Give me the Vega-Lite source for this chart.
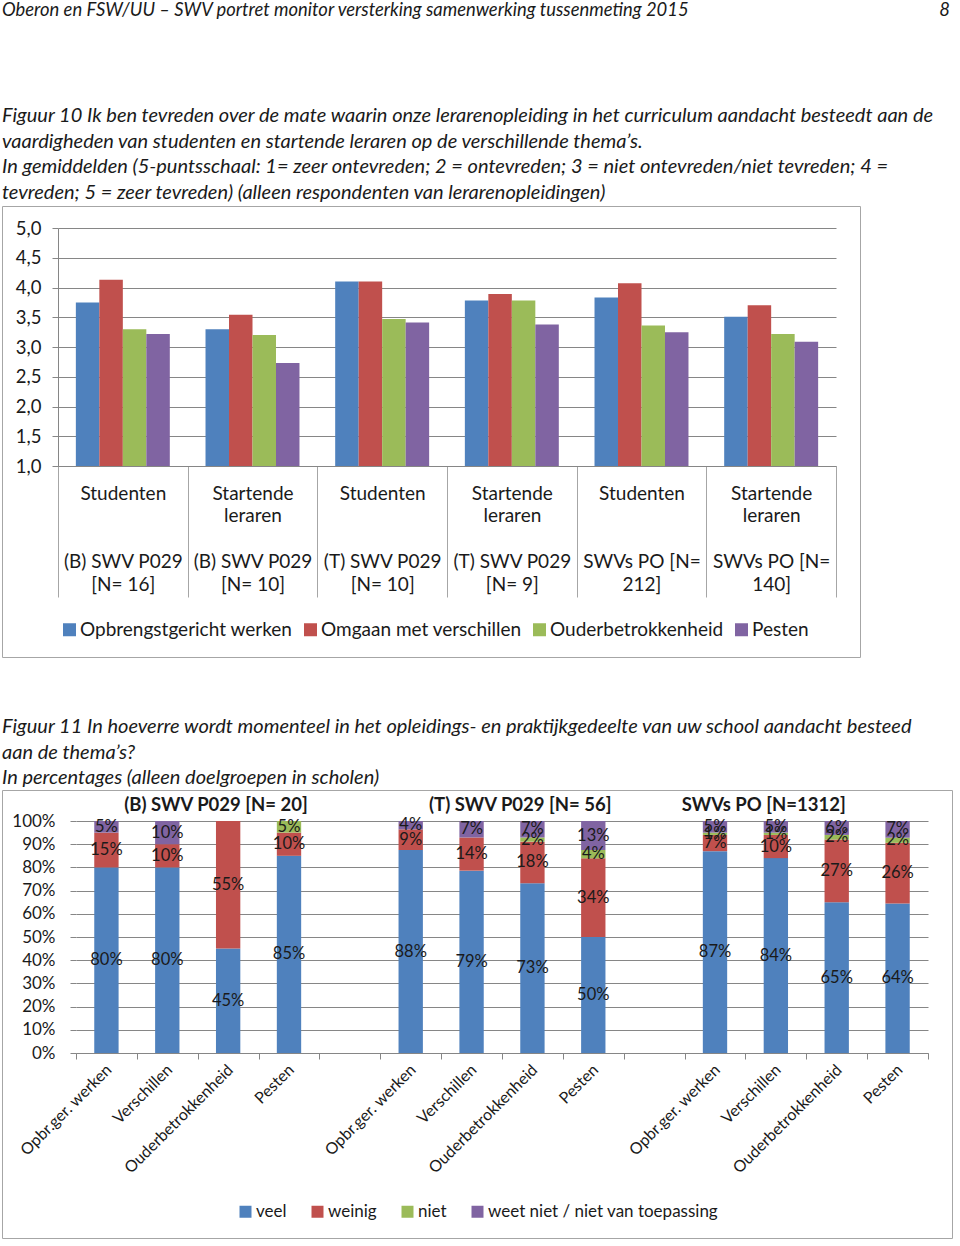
{
  "$schema": "https://vega.github.io/schema/vega-lite/v6.json",
  "padding": {"left": -5, "top": 0, "right": 0, "bottom": 0},
  "background": "white",
  "spacing": 58,
  "resolve": {
    "scale": {"x": "independent", "y": "independent", "color": "independent"},
    "legend": {"color": "independent"}
  },
  "config": {
    "font": "Lato",
    "view": {"stroke": "#a6a6a6"},
    "title": {"font": "Lato", "color": "#1a1a1a", "fontWeight": "normal", "fontStyle": "italic", "anchor": "start", "fontSize": 20, "frame": "group"},
    "axis": {"labelFont": "Lato", "labelColor": "#1a1a1a", "domainColor": "#868686", "tickColor": "#868686", "gridColor": "#868686"},
    "legend": {"labelFont": "Lato", "labelColor": "#1a1a1a"}
  },
  "vconcat": [
    {
      "width": 948,
      "height": 47,
      "view": {"stroke": null},
      "data": {"values": [
        {"plek": "links", "tekst": "Oberon en FSW/UU – SWV portret monitor versterking samenwerking tussenmeting 2015"},
        {"plek": "rechts", "tekst": "8"}
      ]},
      "encoding": {
        "x": {"field": "plek", "type": "nominal", "axis": null, "scale": {"type": "point", "domain": ["links", "rechts"], "padding": 0}},
        "text": {"field": "tekst"}
      },
      "layer": [
        {
          "transform": [{"filter": "datum.plek == 'links'"}],
          "mark": {"type": "text", "align": "left", "baseline": "middle", "dy": -13.5, "fontSize": 18.4, "fontStyle": "italic", "color": "#1a1a1a"}
        },
        {
          "transform": [{"filter": "datum.plek == 'rechts'"}],
          "mark": {"type": "text", "align": "right", "baseline": "middle", "dy": -13.5, "fontSize": 18.4, "fontStyle": "italic", "color": "#1a1a1a"}
        }
      ]
    },
    {
      "width": 858,
      "height": 451,
      "title": {
        "text": [
          "Figuur 10 Ik ben tevreden over de mate waarin onze lerarenopleiding in het curriculum aandacht besteedt aan de",
          "vaardigheden van studenten en startende leraren op de verschillende thema’s.",
          "In gemiddelden (5-puntsschaal: 1= zeer ontevreden; 2 = ontevreden; 3 = niet ontevreden/niet tevreden; 4 =",
          "tevreden; 5 = zeer tevreden) (alleen respondenten van lerarenopleidingen)"
        ],
        "lineHeight": 25.7,
        "offset": 3
      },
      "data": {"values": [
        {"groep": "Studenten|\u200b|\u200b|(B) SWV P029|[N=  16]", "thema": "Opbrengstgericht werken", "gemiddelde": 3.75},
        {"groep": "Studenten|\u200b|\u200b|(B) SWV P029|[N=  16]", "thema": "Omgaan met verschillen", "gemiddelde": 4.13},
        {"groep": "Studenten|\u200b|\u200b|(B) SWV P029|[N=  16]", "thema": "Ouderbetrokkenheid", "gemiddelde": 3.30},
        {"groep": "Studenten|\u200b|\u200b|(B) SWV P029|[N=  16]", "thema": "Pesten", "gemiddelde": 3.22},
        {"groep": "Startende|leraren|\u200b|(B) SWV P029|[N=  10]", "thema": "Opbrengstgericht werken", "gemiddelde": 3.30},
        {"groep": "Startende|leraren|\u200b|(B) SWV P029|[N=  10]", "thema": "Omgaan met verschillen", "gemiddelde": 3.54},
        {"groep": "Startende|leraren|\u200b|(B) SWV P029|[N=  10]", "thema": "Ouderbetrokkenheid", "gemiddelde": 3.20},
        {"groep": "Startende|leraren|\u200b|(B) SWV P029|[N=  10]", "thema": "Pesten", "gemiddelde": 2.73},
        {"groep": "Studenten|\u200b|\u200b|(T) SWV P029|[N=  10]", "thema": "Opbrengstgericht werken", "gemiddelde": 4.10},
        {"groep": "Studenten|\u200b|\u200b|(T) SWV P029|[N=  10]", "thema": "Omgaan met verschillen", "gemiddelde": 4.10},
        {"groep": "Studenten|\u200b|\u200b|(T) SWV P029|[N=  10]", "thema": "Ouderbetrokkenheid", "gemiddelde": 3.47},
        {"groep": "Studenten|\u200b|\u200b|(T) SWV P029|[N=  10]", "thema": "Pesten", "gemiddelde": 3.41},
        {"groep": "Startende|leraren|\u200b|(T) SWV P029|[N=   9]", "thema": "Opbrengstgericht werken", "gemiddelde": 3.78},
        {"groep": "Startende|leraren|\u200b|(T) SWV P029|[N=   9]", "thema": "Omgaan met verschillen", "gemiddelde": 3.89},
        {"groep": "Startende|leraren|\u200b|(T) SWV P029|[N=   9]", "thema": "Ouderbetrokkenheid", "gemiddelde": 3.78},
        {"groep": "Startende|leraren|\u200b|(T) SWV P029|[N=   9]", "thema": "Pesten", "gemiddelde": 3.38},
        {"groep": "Studenten|\u200b|\u200b|SWVs PO [N=|212]", "thema": "Opbrengstgericht werken", "gemiddelde": 3.83},
        {"groep": "Studenten|\u200b|\u200b|SWVs PO [N=|212]", "thema": "Omgaan met verschillen", "gemiddelde": 4.07},
        {"groep": "Studenten|\u200b|\u200b|SWVs PO [N=|212]", "thema": "Ouderbetrokkenheid", "gemiddelde": 3.36},
        {"groep": "Studenten|\u200b|\u200b|SWVs PO [N=|212]", "thema": "Pesten", "gemiddelde": 3.25},
        {"groep": "Startende|leraren|\u200b|SWVs PO [N=|140]", "thema": "Opbrengstgericht werken", "gemiddelde": 3.51},
        {"groep": "Startende|leraren|\u200b|SWVs PO [N=|140]", "thema": "Omgaan met verschillen", "gemiddelde": 3.70},
        {"groep": "Startende|leraren|\u200b|SWVs PO [N=|140]", "thema": "Ouderbetrokkenheid", "gemiddelde": 3.22},
        {"groep": "Startende|leraren|\u200b|SWVs PO [N=|140]", "thema": "Pesten", "gemiddelde": 3.09}
      ]},
      "mark": {"type": "bar"},
      "encoding": {
        "x": {
          "field": "groep", "type": "nominal", "sort": null, "title": null,
          "scale": {"range": [56, 834], "paddingInner": 0, "paddingOuter": 0},
          "axis": {
            "orient": "bottom", "offset": -191, "labelAngle": 0, "tickBand": "extent", "tickSize": 131,
            "tickColor": "#a6a6a6", "labelPadding": -113, "labelFontSize": 19, "labelLineHeight": 22.75,
            "labelBaseline": "top", "labelOverlap": false, "labelLimit": 0,
            "labelExpr": "isValid(datum.value) ? split(datum.value, '|') : ''"
          }
        },
        "xOffset": {
          "field": "thema", "type": "nominal",
          "sort": ["Opbrengstgericht werken", "Omgaan met verschillen", "Ouderbetrokkenheid", "Pesten"],
          "scale": {"paddingInner": 0, "paddingOuter": 0.76}
        },
        "y": {
          "field": "gemiddelde", "type": "quantitative", "title": null,
          "scale": {"domain": [1, 5], "range": [260, 22], "zero": false},
          "axis": {
            "orient": "left", "offset": -56, "values": [1, 1.5, 2, 2.5, 3, 3.5, 4, 4.5, 5],
            "labelExpr": "replace(format(datum.value, '.1f'), '.', ',')",
            "grid": true, "tickSize": 6, "labelPadding": 11, "labelFontSize": 18.5
          }
        },
        "y2": {"datum": 1},
        "color": {
          "field": "thema", "type": "nominal",
          "sort": ["Opbrengstgericht werken", "Omgaan met verschillen", "Ouderbetrokkenheid", "Pesten"],
          "scale": {"domain": ["Opbrengstgericht werken", "Omgaan met verschillen", "Ouderbetrokkenheid", "Pesten"], "range": ["#4f81bd", "#c0504d", "#9bbb59", "#8064a2"]},
          "legend": {
            "orient": "none", "legendX": 58, "legendY": 414, "direction": "horizontal", "title": null,
            "symbolType": "square", "symbolSize": 169, "symbolStrokeWidth": 0, "labelFontSize": 19,
            "labelOffset": 1, "columnPadding": 8, "labelLimit": 0
          }
        }
      }
    },
    {
      "width": 950,
      "height": 448,
      "title": {
        "text": [
          "Figuur 11 In hoeverre wordt momenteel in het opleidings- en praktijkgedeelte van uw school aandacht besteed",
          "aan de thema’s?",
          "In percentages (alleen doelgroepen in scholen)"
        ],
        "lineHeight": 25.5,
        "offset": 2
      },
      "data": {"values": [
        {"kolom": "B|Opbr.ger. werken", "antwoord": "veel", "rang": 1, "aandeel": 0.80},
        {"kolom": "B|Opbr.ger. werken", "antwoord": "weinig", "rang": 2, "aandeel": 0.15},
        {"kolom": "B|Opbr.ger. werken", "antwoord": "niet", "rang": 3, "aandeel": 0},
        {"kolom": "B|Opbr.ger. werken", "antwoord": "weet niet / niet van toepassing", "rang": 4, "aandeel": 0.05},
        {"kolom": "B|Verschillen", "antwoord": "veel", "rang": 1, "aandeel": 0.80},
        {"kolom": "B|Verschillen", "antwoord": "weinig", "rang": 2, "aandeel": 0.10},
        {"kolom": "B|Verschillen", "antwoord": "niet", "rang": 3, "aandeel": 0},
        {"kolom": "B|Verschillen", "antwoord": "weet niet / niet van toepassing", "rang": 4, "aandeel": 0.10},
        {"kolom": "B|Ouderbetrokkenheid", "antwoord": "veel", "rang": 1, "aandeel": 0.45},
        {"kolom": "B|Ouderbetrokkenheid", "antwoord": "weinig", "rang": 2, "aandeel": 0.55},
        {"kolom": "B|Ouderbetrokkenheid", "antwoord": "niet", "rang": 3, "aandeel": 0},
        {"kolom": "B|Ouderbetrokkenheid", "antwoord": "weet niet / niet van toepassing", "rang": 4, "aandeel": 0},
        {"kolom": "B|Pesten", "antwoord": "veel", "rang": 1, "aandeel": 0.85},
        {"kolom": "B|Pesten", "antwoord": "weinig", "rang": 2, "aandeel": 0.10},
        {"kolom": "B|Pesten", "antwoord": "niet", "rang": 3, "aandeel": 0.05},
        {"kolom": "B|Pesten", "antwoord": "weet niet / niet van toepassing", "rang": 4, "aandeel": 0},
        {"kolom": "T|Opbr.ger. werken", "antwoord": "veel", "rang": 1, "aandeel": 0.875},
        {"kolom": "T|Opbr.ger. werken", "antwoord": "weinig", "rang": 2, "aandeel": 0.089},
        {"kolom": "T|Opbr.ger. werken", "antwoord": "niet", "rang": 3, "aandeel": 0},
        {"kolom": "T|Opbr.ger. werken", "antwoord": "weet niet / niet van toepassing", "rang": 4, "aandeel": 0.036},
        {"kolom": "T|Verschillen", "antwoord": "veel", "rang": 1, "aandeel": 0.786},
        {"kolom": "T|Verschillen", "antwoord": "weinig", "rang": 2, "aandeel": 0.143},
        {"kolom": "T|Verschillen", "antwoord": "niet", "rang": 3, "aandeel": 0},
        {"kolom": "T|Verschillen", "antwoord": "weet niet / niet van toepassing", "rang": 4, "aandeel": 0.071},
        {"kolom": "T|Ouderbetrokkenheid", "antwoord": "veel", "rang": 1, "aandeel": 0.732},
        {"kolom": "T|Ouderbetrokkenheid", "antwoord": "weinig", "rang": 2, "aandeel": 0.179},
        {"kolom": "T|Ouderbetrokkenheid", "antwoord": "niet", "rang": 3, "aandeel": 0.018},
        {"kolom": "T|Ouderbetrokkenheid", "antwoord": "weet niet / niet van toepassing", "rang": 4, "aandeel": 0.071},
        {"kolom": "T|Pesten", "antwoord": "veel", "rang": 1, "aandeel": 0.50},
        {"kolom": "T|Pesten", "antwoord": "weinig", "rang": 2, "aandeel": 0.339},
        {"kolom": "T|Pesten", "antwoord": "niet", "rang": 3, "aandeel": 0.036},
        {"kolom": "T|Pesten", "antwoord": "weet niet / niet van toepassing", "rang": 4, "aandeel": 0.125},
        {"kolom": "S|Opbr.ger. werken", "antwoord": "veel", "rang": 1, "aandeel": 0.87},
        {"kolom": "S|Opbr.ger. werken", "antwoord": "weinig", "rang": 2, "aandeel": 0.07},
        {"kolom": "S|Opbr.ger. werken", "antwoord": "niet", "rang": 3, "aandeel": 0.01},
        {"kolom": "S|Opbr.ger. werken", "antwoord": "weet niet / niet van toepassing", "rang": 4, "aandeel": 0.05},
        {"kolom": "S|Verschillen", "antwoord": "veel", "rang": 1, "aandeel": 0.84},
        {"kolom": "S|Verschillen", "antwoord": "weinig", "rang": 2, "aandeel": 0.10},
        {"kolom": "S|Verschillen", "antwoord": "niet", "rang": 3, "aandeel": 0.01},
        {"kolom": "S|Verschillen", "antwoord": "weet niet / niet van toepassing", "rang": 4, "aandeel": 0.05},
        {"kolom": "S|Ouderbetrokkenheid", "antwoord": "veel", "rang": 1, "aandeel": 0.65},
        {"kolom": "S|Ouderbetrokkenheid", "antwoord": "weinig", "rang": 2, "aandeel": 0.27},
        {"kolom": "S|Ouderbetrokkenheid", "antwoord": "niet", "rang": 3, "aandeel": 0.02},
        {"kolom": "S|Ouderbetrokkenheid", "antwoord": "weet niet / niet van toepassing", "rang": 4, "aandeel": 0.06},
        {"kolom": "S|Pesten", "antwoord": "veel", "rang": 1, "aandeel": 0.644},
        {"kolom": "S|Pesten", "antwoord": "weinig", "rang": 2, "aandeel": 0.262},
        {"kolom": "S|Pesten", "antwoord": "niet", "rang": 3, "aandeel": 0.022},
        {"kolom": "S|Pesten", "antwoord": "weet niet / niet van toepassing", "rang": 4, "aandeel": 0.072}
      ]},
      "encoding": {
        "x": {
          "field": "kolom", "type": "nominal", "title": null,
          "scale": {
            "domain": ["B|Opbr.ger. werken", "B|Verschillen", "B|Ouderbetrokkenheid", "B|Pesten", "leeg1",
                       "T|Opbr.ger. werken", "T|Verschillen", "T|Ouderbetrokkenheid", "T|Pesten", "leeg2",
                       "S|Opbr.ger. werken", "S|Verschillen", "S|Ouderbetrokkenheid", "S|Pesten"],
            "range": [74, 926], "paddingInner": 0, "paddingOuter": 0
          },
          "axis": {
            "orient": "bottom", "offset": -185, "tickBand": "extent", "tickSize": 6,
            "labelAngle": -45, "labelAlign": "right", "labelBaseline": "middle", "labelPadding": 8, "labelOffset": 2,
            "labelFontSize": 16, "labelOverlap": false, "labelLimit": 0,
            "labelExpr": "isValid(datum.value) && indexof(datum.value, '|') >= 0 ? split(datum.value, '|')[1] : ''"
          }
        }
      },
      "layer": [
        {
          "mark": {"type": "bar", "width": {"band": 0.4}},
          "encoding": {
            "y": {
              "field": "aandeel", "type": "quantitative", "stack": "zero", "title": null,
              "scale": {"domain": [0, 1], "range": [263, 31]},
              "axis": {
                "orient": "left", "offset": -74, "values": [0, 0.1, 0.2, 0.3, 0.4, 0.5, 0.6, 0.7, 0.8, 0.9, 1],
                "format": ".0%", "grid": true, "domain": false, "tickSize": 6, "labelPadding": 15, "labelFontSize": 17
              }
            },
            "order": {"field": "rang", "type": "quantitative"},
            "color": {
              "field": "antwoord", "type": "nominal",
              "scale": {"domain": ["veel", "weinig", "niet", "weet niet / niet van toepassing"], "range": ["#4f81bd", "#c0504d", "#9bbb59", "#8064a2"]},
              "legend": {
                "orient": "none", "legendX": 235, "legendY": 413, "direction": "horizontal", "title": null,
                "symbolType": "square", "symbolSize": 144, "symbolStrokeWidth": 0, "labelFontSize": 17,
                "labelOffset": 2, "columnPadding": 22, "labelLimit": 0
              }
            }
          }
        },
        {
          "transform": [{"filter": "datum.aandeel > 0"}],
          "mark": {"type": "text", "fontSize": 16.5, "color": "#1a1a1a", "baseline": "middle"},
          "encoding": {
            "y": {"field": "aandeel", "type": "quantitative", "stack": "zero", "bandPosition": 0.5},
            "order": {"field": "rang", "type": "quantitative"},
            "detail": {"field": "antwoord"},
            "text": {"field": "aandeel", "type": "quantitative", "format": ".0%"}
          }
        },
        {
          "data": {"values": [
            {"kolom": "B|Ouderbetrokkenheid", "kop": "(B) SWV P029 [N=  20]"},
            {"kolom": "T|Ouderbetrokkenheid", "kop": "(T) SWV P029 [N=  56]"},
            {"kolom": "S|Verschillen", "kop": "SWVs PO  [N=1312]"}
          ]},
          "mark": {"type": "text", "fontSize": 18.5, "fontWeight": "bold", "color": "#1a1a1a", "baseline": "middle", "dy": -16},
          "encoding": {
            "x": {"field": "kolom", "type": "nominal", "bandPosition": 0.3},
            "y": {"datum": 1},
            "text": {"field": "kop"}
          }
        }
      ]
    }
  ]
}
